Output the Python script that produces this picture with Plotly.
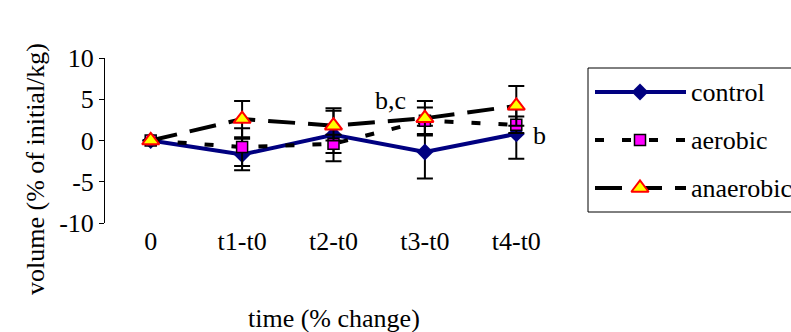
import plotly.graph_objects as go

# Category labels along the time axis
categories = ["0", "t1-t0", "t2-t0", "t3-t0", "t4-t0"]

# Mean volume change (% of initial/kg) per group
control = [0.0, -1.7, 0.7, -1.4, 0.8]
aerobic = [0.0, -0.8, -0.4, 2.4, 1.9]
anaerobic = [0.0, 2.6, 1.8, 2.7, 4.2]

# Error bar half-widths per group
control_err = [0.0, 1.9, 3.2, 3.2, 3.0]
aerobic_err = [0.0, 2.3, 1.1, 1.6, 1.0]
anaerobic_err = [0.0, 2.2, 1.8, 2.1, 2.4]

group_names = ["control", "aerobic", "anaerobic"]

y_ticks = [-10, -5, 0, 5, 10]
y_tick_text = ["-10", "-5", "0", "5", "10"]
x_boundaries = [-0.5, 0.5, 1.5, 2.5, 3.5, 4.5]

W, H = 791, 332
FONT = "Liberation Serif, Times New Roman, serif"
FS = 26


def px(x):
    """Pixel column -> paper fraction."""
    return x / W


def py(y):
    """Pixel row (from top) -> paper fraction."""
    return 1 - y / H


# Plot-area box in pixels
PL, PR, PT, PB = 105, 562, 58, 223

# Series styles: line, marker
styles = [
    dict(line=dict(color="#000080", width=4),
         marker=dict(symbol="diamond", size=13, color="#000080")),
    dict(line=dict(color="black", width=4, dash="9px,18px"),
         marker=dict(symbol="square", size=11, color="#FF00FF",
                     line=dict(color="black", width=1.5))),
    dict(line=dict(color="black", width=4, dash="27px,13px"),
         marker=dict(symbol="triangle-up", size=15, color="#FFFF00",
                     line=dict(color="#FF0000", width=2))),
]
series = [control, aerobic, anaerobic]
errors = [control_err, aerobic_err, anaerobic_err]

fig = go.Figure()

for name, vals, err, st in zip(group_names, series, errors, styles):
    fig.add_trace(go.Scatter(
        x=categories, y=vals, name=name, mode="lines+markers",
        line=st["line"], marker=st["marker"],
        error_y=dict(type="data", array=err, color="black",
                     thickness=2, width=8, visible=True),
        showlegend=False, xaxis="x", yaxis="y",
    ))

# Legend panel: a small pixel-space subplot holding the key samples
LEG_L, LEG_T, LEG_B = 588, 68, 212
leg_rows = [92, 140, 188]
sample_x = [595, 686]
sample_mid = 640
text_x = 689

for name, row, st in zip(group_names, leg_rows, styles):
    fig.add_trace(go.Scatter(
        x=sample_x, y=[row, row], mode="lines", line=st["line"],
        showlegend=False, hoverinfo="skip", xaxis="x3", yaxis="y3",
    ))
    fig.add_trace(go.Scatter(
        x=[sample_mid], y=[row], mode="markers", marker=st["marker"],
        showlegend=False, hoverinfo="skip", xaxis="x3", yaxis="y3",
    ))
    fig.add_annotation(x=text_x, y=row, xref="x3", yref="y3", text=name,
                       xanchor="left", yanchor="middle", showarrow=False,
                       font=dict(family=FONT, size=FS, color="black"))

fig.add_shape(type="rect", xref="paper", yref="paper",
              x0=px(LEG_L), x1=1.02, y0=py(LEG_B), y1=py(LEG_T),
              line=dict(color="black", width=1), fillcolor="rgba(0,0,0,0)",
              layer="below")

# Significance letters
fig.add_annotation(x="t3-t0", y=4.9, xref="x", yref="y", text="b,c",
                   showarrow=False, xshift=-34,
                   font=dict(family=FONT, size=FS, color="black"))
fig.add_annotation(x="t4-t0", y=0.65, xref="x", yref="y", text="b",
                   showarrow=False, xshift=23,
                   font=dict(family=FONT, size=FS, color="black"))

# Axis titles
fig.add_annotation(x=px(35), y=py(169), xref="paper", yref="paper",
                   xanchor="center", yanchor="middle",
                   text="volume (% of initial/kg)", textangle=-90,
                   showarrow=False, font=dict(family=FONT, size=FS, color="black"))
fig.add_annotation(x=px((PL + PR) / 2), y=py(318), xref="paper", yref="paper",
                   xanchor="center", yanchor="middle",
                   text="time (% change)", showarrow=False,
                   font=dict(family=FONT, size=FS, color="black"))

fig.update_layout(
    width=W, height=H,
    margin=dict(l=0, r=0, t=0, b=0, autoexpand=False),
    paper_bgcolor="white", plot_bgcolor="rgba(0,0,0,0)",
    font=dict(family=FONT, size=FS, color="black"),
    showlegend=False,
    xaxis=dict(
        domain=[px(PL), px(PR)],
        type="category", categoryorder="array", categoryarray=categories,
        range=[-0.5, 4.5], showline=False, ticks="", showgrid=False,
        zeroline=False, tickfont=dict(family=FONT, size=FS, color="black"),
        ticklabelstandoff=0, fixedrange=True,
    ),
    xaxis2=dict(
        domain=[px(PL), px(PR)],
        overlaying="x", anchor="free", position=py((PT + PB) / 2), side="bottom",
        range=[-0.5, 4.5], tickvals=x_boundaries, ticks="outside",
        ticklen=5, tickcolor="black", showticklabels=False,
        showline=True, linecolor="black", linewidth=1,
        showgrid=False, zeroline=False,
    ),
    yaxis=dict(
        domain=[py(PB), py(PT)],
        range=[-10, 10], tickvals=y_ticks, ticktext=y_tick_text,
        ticks="outside", ticklen=5,
        tickcolor="black", showline=True, linecolor="black", linewidth=1,
        showgrid=False, zeroline=False,
        tickfont=dict(family=FONT, size=FS, color="black"),
    ),
    xaxis3=dict(
        domain=[px(LEG_L), 1], range=[LEG_L, W], anchor="y3",
        visible=False, fixedrange=True,
    ),
    yaxis3=dict(
        domain=[py(LEG_B), py(LEG_T)], range=[LEG_B, LEG_T], anchor="x3",
        visible=False, fixedrange=True,
    ),
)

fig.write_html("out.html")
